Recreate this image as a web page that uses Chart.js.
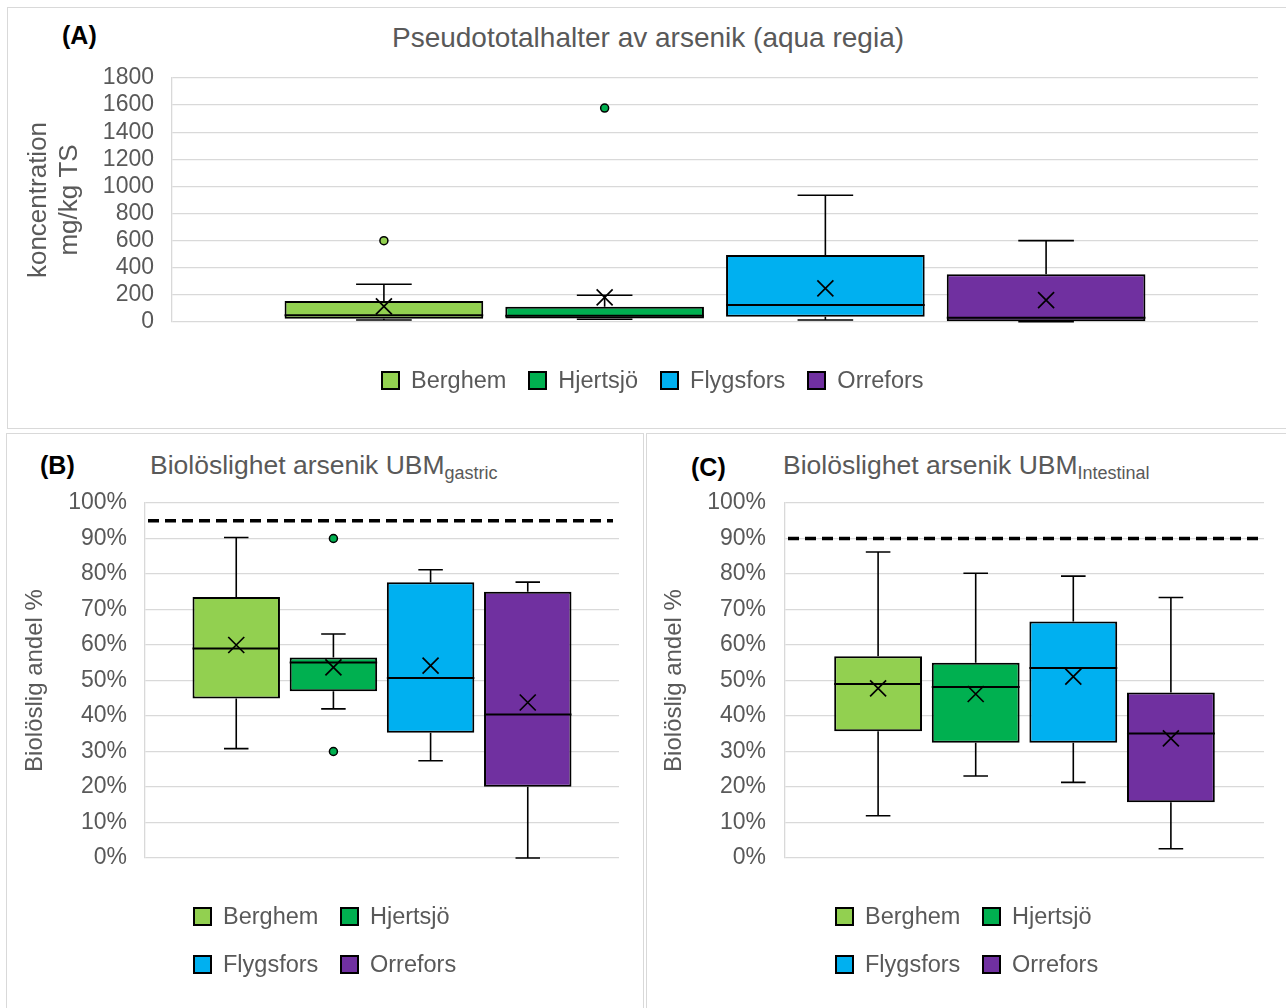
<!DOCTYPE html>
<html>
<head>
<meta charset="utf-8">
<script src="https://cdn.jsdelivr.net/npm/chart.js@4.4.1/dist/chart.umd.min.js"></script>
<style>
  body { margin: 0; width: 1286px; height: 1008px; background: #fff; position: relative; overflow: hidden;
         font-family: "Liberation Sans", Arial, sans-serif; }
  .panel { position: absolute; border: 1px solid #d9d9d9; box-sizing: border-box; }
  .tag { position: absolute; font-weight: bold; font-size: 25px; line-height: 24px; color: #000; }
  .title { position: absolute; color: #595959; white-space: nowrap; }
  .title sub { font-size: 18px; vertical-align: -5px; line-height: 0; }
  canvas { position: absolute; }
  .legend { position: absolute; color: #595959; font-size: 23.5px; line-height: 24px; }
  .legend.row { display: flex; gap: 22px; }
  .legend.grid { display: grid; grid-template-columns: 147px 147px; grid-auto-rows: 48px; align-items: center; }
  .legend .item { display: flex; align-items: center; white-space: nowrap; }
  .legend i { display: inline-block; width: 19px; height: 19px; box-sizing: border-box; border: 2px solid #000; margin-right: 11px; }
</style>
</head>
<body>
<div class="panel" style="left:7px;top:7px;width:1290px;height:422px"></div>
<div class="panel" style="left:6px;top:433px;width:638px;height:590px"></div>
<div class="panel" style="left:646px;top:433px;width:650px;height:590px"></div>

<div class="tag" style="left:62px;top:23px">(A)</div>
<div class="title" style="left:0;width:1296px;text-align:center;top:22px;font-size:28px;line-height:32px">Pseudototalhalter av arsenik (aqua regia)</div>
<div class="tag" style="left:40px;top:453px">(B)</div>
<div class="title" style="left:150px;top:450px;font-size:26.5px;line-height:30px">Biolöslighet arsenik UBM<sub>gastric</sub></div>
<div class="tag" style="left:691px;top:455px">(C)</div>
<div class="title" style="left:783px;top:450px;font-size:26.5px;line-height:30px">Biolöslighet arsenik UBM<sub>Intestinal</sub></div>

<canvas id="chartA" width="1277" height="419" style="left:8px;top:8px"></canvas>
<canvas id="chartB" width="635" height="574" style="left:7px;top:434px"></canvas>
<canvas id="chartC" width="639" height="574" style="left:647px;top:434px"></canvas>

<div id="legendA" class="legend row" style="left:381px;top:368px"></div>
<div id="legendB" class="legend grid" style="left:193px;top:892px"></div>
<div id="legendC" class="legend grid" style="left:835px;top:892px"></div>

<script>
const sites = ['Berghem', 'Hjertsjö', 'Flygsfors', 'Orrefors'];
const siteColors = ['#92d050', '#00b050', '#00b0f0', '#7030a0'];

// (A) pseudototal halter, mg/kg TS
const totMin      = [15, 20, 15, 2];
const totQ1       = [24, 25, 38, 5];
const totMedian   = [50, 46, 125, 32];
const totQ3       = [155, 113, 494, 352];
const totMax      = [278, 197, 935, 600];
const totMean     = [115, 182, 248, 162];
const totOutliers = [[600], [1578], [], []];
const totTicks    = { max: 1800, step: 200 };

// (B) UBM gastric, %
const gasMin      = [30.8, 42, 27.4, 0];
const gasQ1       = [44.9, 47, 35.3, 20.1];
const gasMedian   = [59, 55.1, 50.7, 40.4];
const gasQ3       = [73.5, 56.5, 77.7, 75];
const gasMax      = [90.3, 63.1, 81.2, 77.7];
const gasMean     = [60, 53.7, 54.2, 43.8];
const gasOutliers = [[], [90, 30], [], []];
const gasLimit    = 95;

// (C) UBM intestinal, %
const intMin      = [11.9, 23.1, 21.3, 2.6];
const intQ1       = [35.7, 32.5, 32.5, 15.7];
const intMedian   = [49, 48.2, 53.5, 35.1];
const intQ3       = [56.8, 55, 66.6, 46.6];
const intMax      = [86.2, 80.2, 79.4, 73.4];
const intMean     = [47.8, 46.2, 51.1, 33.7];
const intOutliers = [[], [], [], []];
const intLimit    = 90;

const pctTicks = { max: 100, step: 10 };

Chart.defaults.font.family = '"Liberation Sans", Arial, sans-serif';
Chart.defaults.color = '#595959';

// whiskers, median, mean cross, outliers and dashed limit line
const boxPlugin = {
  id: 'boxWhiskers',
  afterDatasetsDraw(chart, args, opts) {
    const ctx = chart.ctx;
    const y = chart.scales.y;
    const area = chart.chartArea;
    ctx.save();
    chart.data.datasets.forEach((ds, i) => {
      const bar = chart.getDatasetMeta(i).data[0];
      const x = bar.x, w = bar.width, cap = w * 0.14;
      const st = ds.stats;
      ctx.strokeStyle = '#000';
      ctx.lineWidth = 1.6;
      ctx.beginPath();
      ctx.moveTo(x, y.getPixelForValue(ds.data[0][1]));
      ctx.lineTo(x, y.getPixelForValue(st.max));
      ctx.moveTo(x - cap, y.getPixelForValue(st.max));
      ctx.lineTo(x + cap, y.getPixelForValue(st.max));
      ctx.moveTo(x, y.getPixelForValue(ds.data[0][0]));
      ctx.lineTo(x, y.getPixelForValue(st.min));
      ctx.moveTo(x - cap, y.getPixelForValue(st.min));
      ctx.lineTo(x + cap, y.getPixelForValue(st.min));
      ctx.stroke();
      // median
      ctx.lineWidth = 2;
      ctx.beginPath();
      const ym = y.getPixelForValue(st.median);
      ctx.moveTo(x - w / 2, ym);
      ctx.lineTo(x + w / 2, ym);
      ctx.stroke();
      // mean
      const yx = y.getPixelForValue(st.mean), s = 8;
      ctx.lineWidth = 1.7;
      ctx.beginPath();
      ctx.moveTo(x - s, yx - s); ctx.lineTo(x + s, yx + s);
      ctx.moveTo(x - s, yx + s); ctx.lineTo(x + s, yx - s);
      ctx.stroke();
      // outliers
      st.outliers.forEach(v => {
        ctx.beginPath();
        ctx.arc(x, y.getPixelForValue(v), 4, 0, Math.PI * 2);
        ctx.fillStyle = ds.backgroundColor;
        ctx.fill();
        ctx.lineWidth = 1.5;
        ctx.stroke();
      });
    });
    if (opts.limit != null) {
      const yl = y.getPixelForValue(opts.limit);
      ctx.strokeStyle = '#000';
      ctx.lineWidth = 3.5;
      ctx.setLineDash([11, 6]);
      ctx.beginPath();
      ctx.moveTo(area.left + 3, yl);
      ctx.lineTo(area.right - 6, yl);
      ctx.stroke();
    }
    ctx.restore();
  }
};

function boxChart(id, s, cfg) {
  return new Chart(document.getElementById(id), {
    type: 'bar',
    data: {
      labels: [''],
      datasets: sites.map((name, i) => ({
        label: name,
        data: [[s.q1[i], s.q3[i]]],
        backgroundColor: siteColors[i],
        borderColor: '#000',
        borderWidth: 2,
        borderSkipped: false,
        categoryPercentage: cfg.catPct,
        barPercentage: 0.9,
        stats: { min: s.min[i], median: s.median[i], max: s.max[i], mean: s.mean[i], outliers: s.outliers[i] }
      }))
    },
    options: {
      responsive: false,
      animation: false,
      layout: { padding: cfg.padding },
      plugins: {
        legend: { display: false },
        tooltip: { enabled: false },
        boxWhiskers: { limit: cfg.limit }
      },
      scales: {
        x: { display: false },
        y: {
          min: 0,
          max: cfg.ticks.max,
          ticks: {
            stepSize: cfg.ticks.step,
            autoSkip: false,
            color: '#595959',
            font: { size: 23 },
            padding: cfg.tickPad,
            callback: cfg.fmt
          },
          grid: { color: '#d9d9d9', lineWidth: 1.3, drawTicks: false },
          border: { display: true, color: '#d9d9d9', width: 1.3 },
          title: {
            display: true,
            text: cfg.title,
            color: '#595959',
            font: { size: cfg.titleSize, lineHeight: 1.2 },
            padding: { top: cfg.titlePad, bottom: 0 }
          },
          afterFit: scale => { scale.width = cfg.axisWidth; }
        }
      }
    },
    plugins: [boxPlugin]
  });
}

boxChart('chartA',
  { min: totMin, q1: totQ1, median: totMedian, q3: totQ3, max: totMax, mean: totMean, outliers: totOutliers },
  { catPct: 0.813, padding: { left: 0, top: 70, right: 27, bottom: 105 }, ticks: totTicks, tickPad: 18,
    fmt: v => v, title: ['koncentration', 'mg/kg TS'], titleSize: 26, titlePad: 15, axisWidth: 164, limit: null });

boxChart('chartB',
  { min: gasMin, q1: gasQ1, median: gasMedian, q3: gasQ3, max: gasMax, mean: gasMean, outliers: gasOutliers },
  { catPct: 0.82, padding: { left: 0, top: 69, right: 23, bottom: 150 }, ticks: pctTicks, tickPad: 18,
    fmt: v => v + '%', title: 'Biolöslig andel %', titleSize: 24, titlePad: 14, axisWidth: 138, limit: gasLimit });

boxChart('chartC',
  { min: intMin, q1: intQ1, median: intMedian, q3: intQ3, max: intMax, mean: intMean, outliers: intOutliers },
  { catPct: 0.815, padding: { left: 0, top: 69, right: 22, bottom: 150 }, ticks: pctTicks, tickPad: 19,
    fmt: v => v + '%', title: 'Biolöslig andel %', titleSize: 24, titlePad: 13, axisWidth: 138, limit: intLimit });

function htmlLegend(id) {
  const el = document.getElementById(id);
  sites.forEach((name, i) => {
    const item = document.createElement('span');
    item.className = 'item';
    const sw = document.createElement('i');
    sw.style.background = siteColors[i];
    item.appendChild(sw);
    item.appendChild(document.createTextNode(name));
    el.appendChild(item);
  });
}
htmlLegend('legendA');
htmlLegend('legendB');
htmlLegend('legendC');
</script>
</body>
</html>
